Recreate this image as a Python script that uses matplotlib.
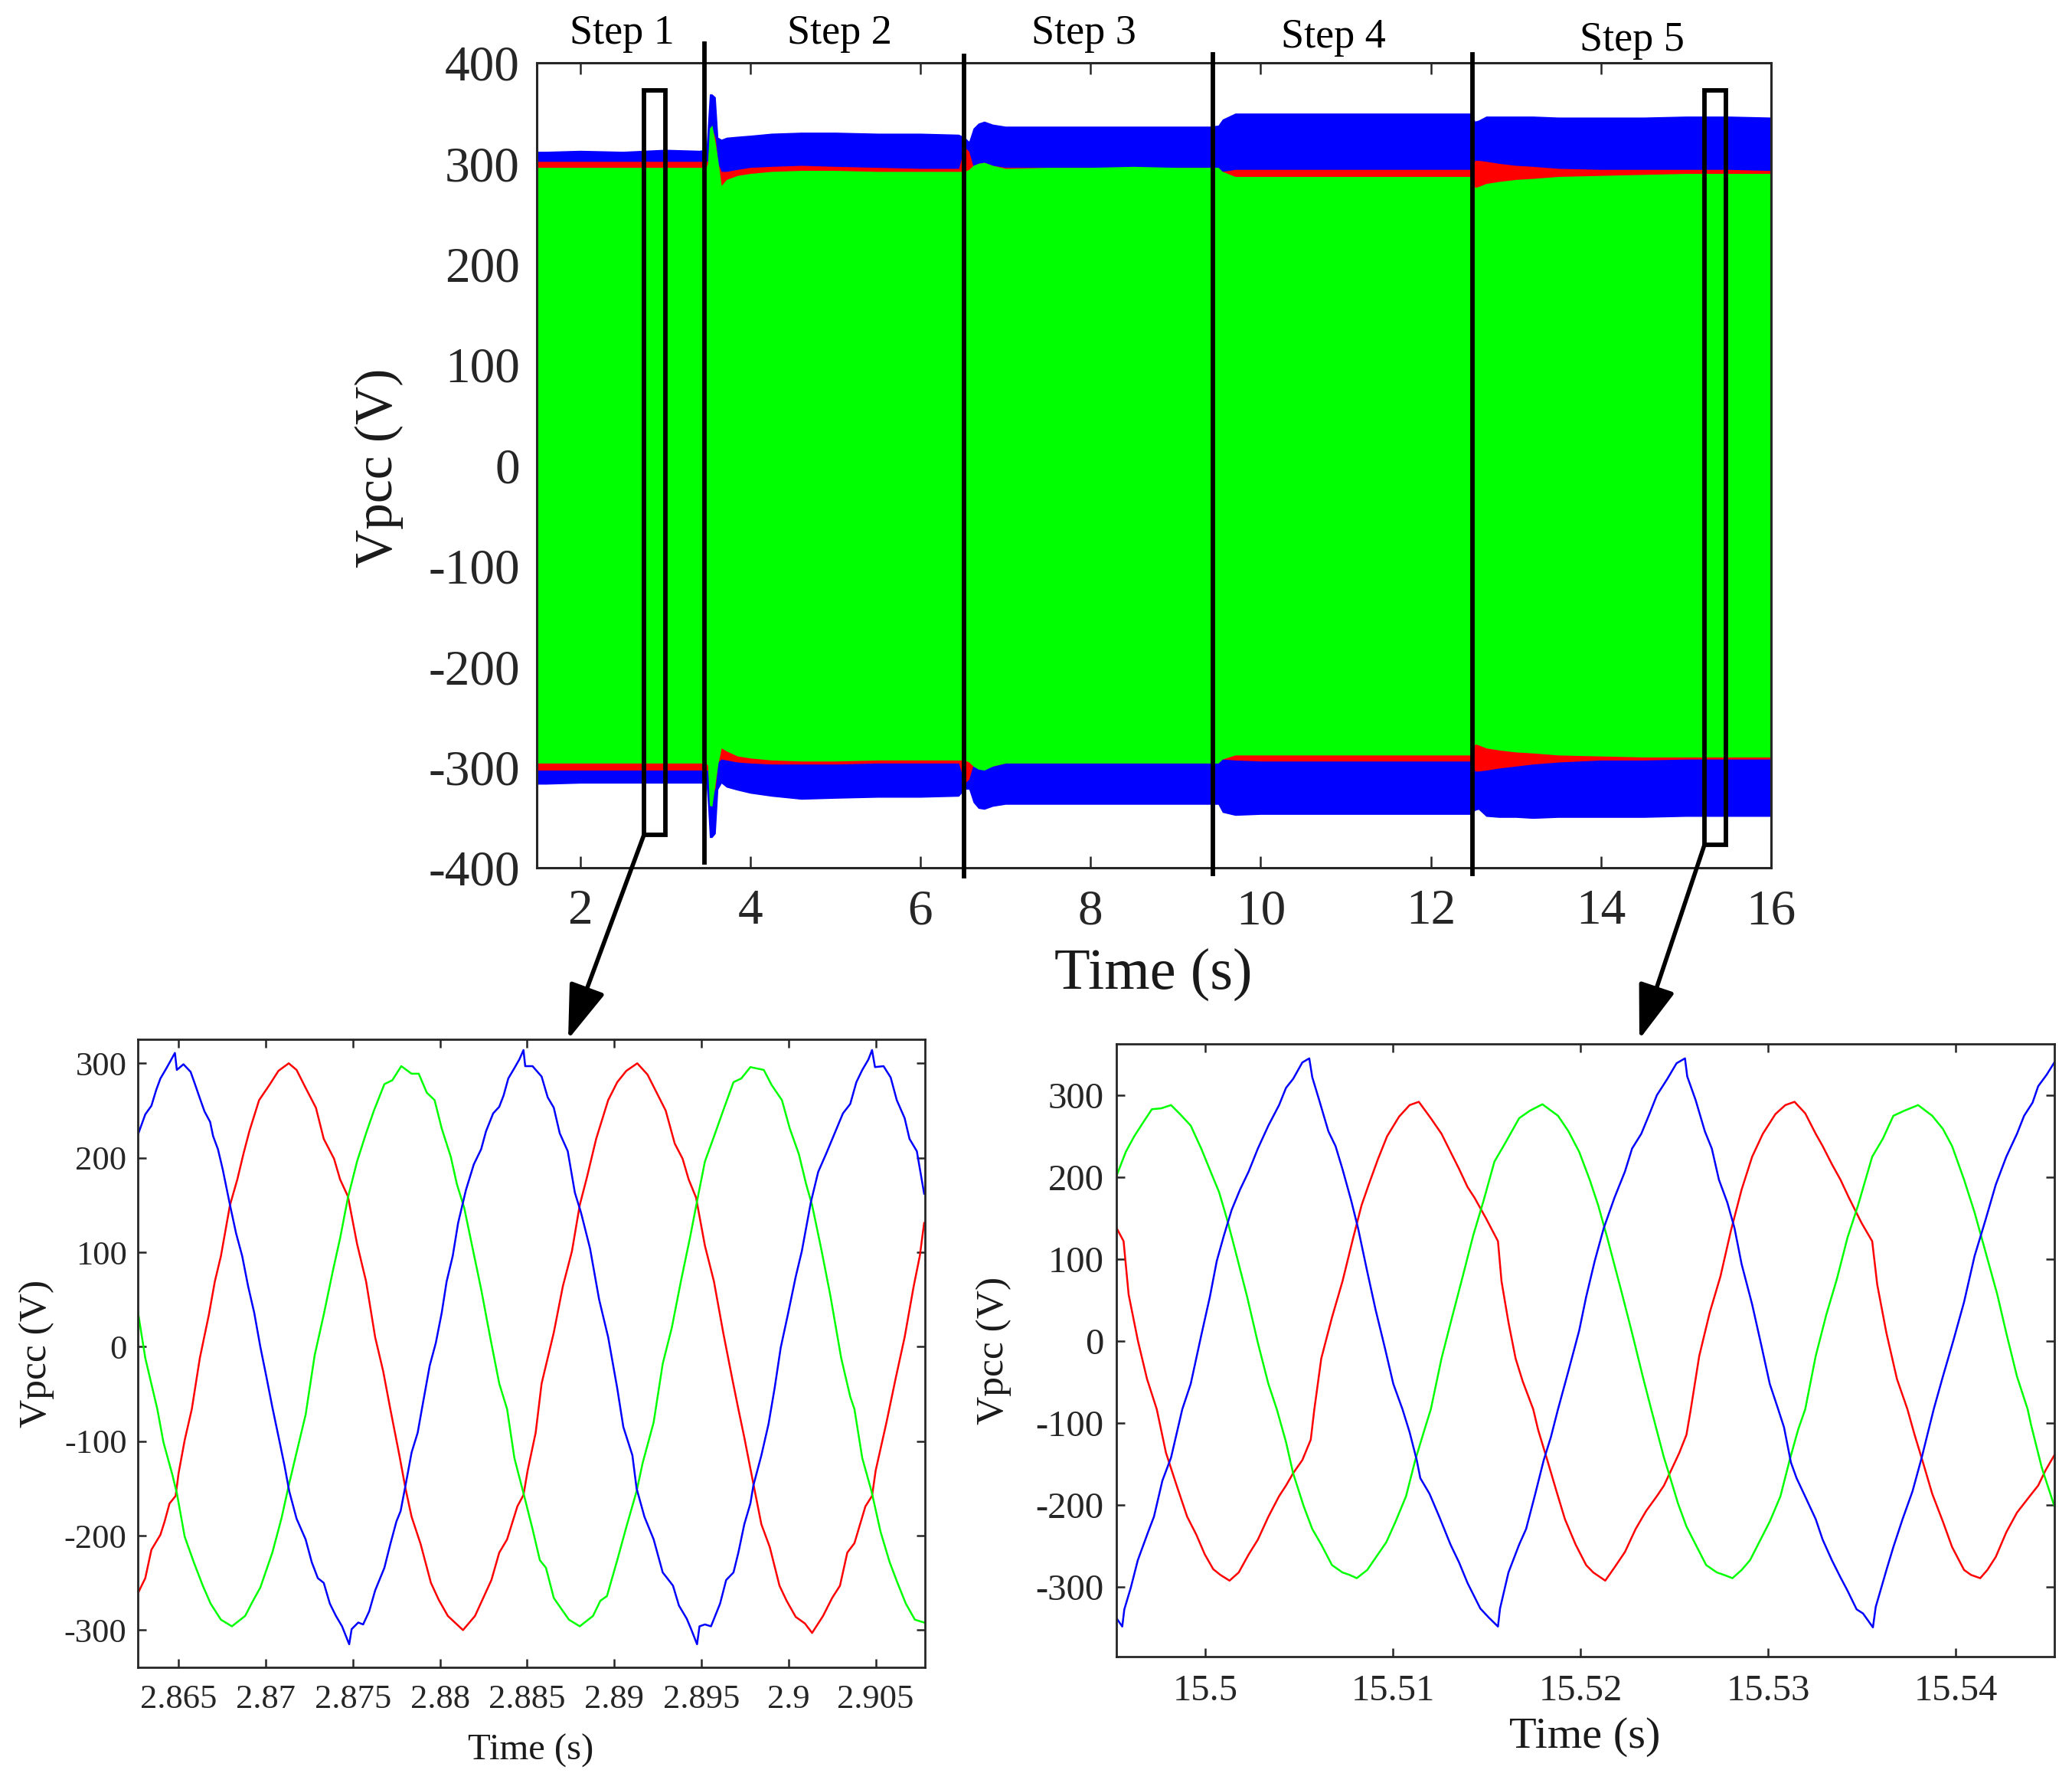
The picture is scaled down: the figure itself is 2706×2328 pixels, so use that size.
#!/usr/bin/env python3
import matplotlib
matplotlib.use("Agg")
from matplotlib import pyplot as plt
from matplotlib.patches import FancyArrowPatch, Rectangle

plt.rcParams["font.family"] = ["Liberation Serif", "DejaVu Serif"]
plt.rcParams["axes.unicode_minus"] = False

W, H = 2706, 2328
DARK = "#262626"
RED, GREEN, BLUE = "#ff0000", "#00ff00", "#0000ff"

# envelope of the three phases in the top plot
t_env = [1.49, 1.6, 2.0, 2.5, 3.0, 3.4, 3.48, 3.5, 3.52, 3.55, 3.59, 3.62, 3.66, 3.72, 3.85, 4.0, 4.25, 4.6, 5, 5.5,
         6, 6.45, 6.52, 6.57, 6.62, 6.68, 6.75, 6.85, 7.0, 7.5, 8, 8.5, 9, 9.4, 9.5, 9.55, 9.7, 10, 11, 12,
         12.47, 12.52, 12.56, 12.65, 12.8, 13, 13.2, 13.5, 14, 14.5, 15, 15.5, 16]
blue_top = [312, 312, 313, 312, 314, 313, 314, 342, 369, 369, 366, 326, 324, 326, 327, 328, 330, 331, 331, 330,
            330, 329, 326, 322, 335, 340, 342, 339, 337, 337, 337, 337, 337, 337, 338, 344, 350, 350, 350, 350,
            350, 342, 343, 347, 347, 347, 347, 346, 346, 346, 347, 347, 346]
blue_bot = [-317, -317, -316, -316, -316, -316, -316, -339, -370, -370, -366, -322, -316, -320, -323, -326, -329, -332, -331, -330,
            -330, -329, -322, -322, -335, -341, -342, -339, -337, -337, -337, -337, -337, -337, -337, -345, -348, -347, -347, -347,
            -347, -343, -342, -349, -350, -350, -351, -350, -350, -350, -349, -349, -349]
red_top = [302, 302, 302, 302, 302, 302, 302, 302, 325, 335, 325, 300, 292, 292, 294, 296, 297, 298, 297, 296,
           295, 295, 316, 312, 297, 300, 301, 298, 296, 296, 296, 296, 296, 296, 296, 292, 294, 294, 294, 294,
           294, 303, 303, 302, 300, 298, 297, 295, 294, 294, 294, 294, 293]
red_bot = [-303, -303, -303, -303, -303, -303, -303, -303, -320, -330, -320, -295, -292, -293, -295, -296, -297, -297, -297, -296,
           -296, -296, -316, -312, -298, -301, -302, -299, -296, -296, -296, -296, -296, -296, -296, -292, -293, -294, -294, -294,
           -294, -304, -304, -303, -301, -299, -297, -295, -293, -293, -292, -292, -292]
green_top = [296, 296, 296, 296, 296, 296, 296, 300, 335, 338, 320, 303, 278, 284, 288, 290, 292, 293, 293, 292,
             292, 292, 292, 294, 298, 300, 301, 298, 295, 296, 296, 297, 296, 296, 296, 292, 287, 287, 287, 287,
             287, 276, 277, 280, 282, 284, 285, 287, 288, 289, 290, 290, 290]
green_bot = [-296, -296, -296, -296, -296, -296, -296, -298, -338, -339, -315, -297, -281, -284, -289, -291, -293, -294, -294, -293,
             -293, -293, -293, -295, -299, -302, -303, -299, -296, -296, -296, -296, -296, -296, -296, -292, -288, -288, -288, -288,
             -288, -277, -278, -281, -283, -285, -286, -288, -289, -290, -290, -290, -290]

main_xticks = [2, 4, 6, 8, 10, 12, 14, 16]
main_yticks = [-400, -300, -200, -100, 0, 100, 200, 300, 400]
step_labels = ["Step 1", "Step 2", "Step 3", "Step 4", "Step 5"]

# zoom around 2.88 s
t1_blue = [2.86264, 2.86309, 2.86344, 2.86372, 2.86396, 2.86431, 2.86479, 2.8649, 2.86528, 2.86569, 2.86594, 2.86622, 2.86649, 2.86681, 2.86698, 2.86726, 2.86753, 2.86795, 2.8683, 2.86865,
           2.86899, 2.86934, 2.86969, 2.87003, 2.87038, 2.8708, 2.87108, 2.87135, 2.87177, 2.87229, 2.87264, 2.87299, 2.87333, 2.87368, 2.87403, 2.87438, 2.87479, 2.87493, 2.87531, 2.87559,
           2.87594, 2.87628, 2.87681, 2.87715, 2.8775, 2.87774, 2.87802, 2.87837, 2.87872, 2.87896, 2.87941, 2.87976, 2.8801, 2.88038, 2.88073, 2.88104, 2.88149, 2.88194, 2.88236, 2.88264,
           2.88305, 2.8834, 2.88365, 2.88392, 2.88427, 2.88455, 2.88479, 2.88489, 2.88531, 2.88583, 2.88618, 2.88653, 2.88687, 2.88733, 2.88774, 2.88809, 2.88861, 2.88913, 2.88965, 2.89017,
           2.89052, 2.89104, 2.89128, 2.89173, 2.89226, 2.89278, 2.89312, 2.89337, 2.89371, 2.89416, 2.89441, 2.89475, 2.89489, 2.8952, 2.89555, 2.89607, 2.89642, 2.89684, 2.89712, 2.89746,
           2.89781, 2.89798, 2.89844, 2.89885, 2.8992, 2.89955, 2.89996, 2.90041, 2.90076, 2.90128, 2.9017, 2.90215, 2.90267, 2.90312, 2.90354, 2.90389, 2.90423, 2.90458, 2.90479, 2.90496,
           2.90545, 2.90586, 2.90621, 2.90666, 2.90694, 2.90736, 2.90778]
v1_blue = [223, 246, 255, 272, 284, 295, 311, 293, 299, 291, 278, 263, 249, 238, 223, 209, 188, 150, 120, 96,
           64, 36, 0, -31, -64, -101, -126, -153, -182, -204, -228, -245, -250, -272, -285, -296, -315, -299, -292, -294,
           -280, -258, -234, -209, -185, -174, -147, -112, -91, -66, -20, 4, 36, 69, 96, 131, 166, 193, 209, 228,
           247, 254, 266, 284, 295, 304, 314, 297, 297, 286, 264, 253, 226, 207, 163, 142, 104, 50, 10, -44,
           -85, -115, -150, -180, -204, -239, -247, -253, -274, -288, -299, -315, -296, -294, -296, -272, -247, -239, -218, -188,
           -166, -147, -115, -82, -44, -1, 34, 74, 101, 153, 185, 204, 227, 247, 257, 280, 293, 304, 314, 296,
           297, 285, 261, 242, 220, 207, 162]
t1_red = [2.86264, 2.86309, 2.86344, 2.86396, 2.8642, 2.86448, 2.86483, 2.865, 2.86535, 2.86576, 2.86622, 2.86674, 2.86708, 2.86743, 2.86795, 2.86837, 2.86872, 2.86906, 2.86962, 2.87021,
          2.87073, 2.87132, 2.87177, 2.87229, 2.87288, 2.87333, 2.87392, 2.87427, 2.87472, 2.87524, 2.87576, 2.87628, 2.87674, 2.87715, 2.87767, 2.87802, 2.87837, 2.87889, 2.87948, 2.87993,
          2.88045, 2.88132, 2.88201, 2.88253, 2.88295, 2.8834, 2.88385, 2.88444, 2.88479, 2.88503, 2.88549, 2.88583, 2.88653, 2.88705, 2.88757, 2.88802, 2.88844, 2.88896, 2.88965, 2.89017,
          2.89069, 2.89132, 2.89191, 2.89243, 2.89295, 2.89347, 2.89392, 2.89427, 2.89469, 2.8952, 2.89572, 2.89625, 2.89677, 2.89712, 2.89746, 2.89798, 2.89844, 2.89892, 2.89948, 2.89989,
          2.90041, 2.90094, 2.90135, 2.90198, 2.9025, 2.90295, 2.90337, 2.90378, 2.90441, 2.90479, 2.905, 2.90562, 2.90614, 2.90666, 2.90718, 2.90753, 2.90778]
v1_red = [-262, -245, -215, -199, -185, -166, -158, -134, -99, -66, -12, 34, 69, 96, 150, 177, 204, 228, 261, 277,
          292, 300, 293, 274, 253, 220, 199, 177, 159, 109, 69, 10, -26, -66, -115, -150, -180, -209, -250, -268,
          -285, -300, -285, -264, -247, -218, -204, -169, -157, -131, -91, -39, 15, 64, 101, 150, 180, 220, 261, 280,
          292, 300, 288, 269, 250, 215, 199, 177, 158, 107, 69, 15, -34, -66, -96, -145, -188, -212, -253, -269,
          -286, -293, -303, -285, -266, -253, -218, -208, -169, -158, -131, -80, -34, 10, 64, 96, 131]
t1_green = [2.86264, 2.86309, 2.86378, 2.86413, 2.86465, 2.8649, 2.86535, 2.86587, 2.86639, 2.86684, 2.86743, 2.86806, 2.86882, 2.86924, 2.86969, 2.87038, 2.8709, 2.87132, 2.87177, 2.87229,
            2.87281, 2.87333, 2.87385, 2.87427, 2.87472, 2.87524, 2.87576, 2.87621, 2.87681, 2.87726, 2.87778, 2.87837, 2.87878, 2.87924, 2.87969, 2.8801, 2.88062, 2.88097, 2.88139, 2.88184,
            2.88236, 2.88288, 2.8834, 2.88385, 2.88427, 2.88479, 2.88531, 2.88573, 2.88608, 2.88653, 2.88698, 2.8874, 2.88802, 2.88878, 2.8892, 2.88958, 2.89017, 2.89069, 2.89128, 2.89163,
            2.89226, 2.89278, 2.8933, 2.89382, 2.89434, 2.89476, 2.8952, 2.89573, 2.89625, 2.89684, 2.89729, 2.89781, 2.89858, 2.89903, 2.89962, 2.90007, 2.90059, 2.90101, 2.90135, 2.90187,
            2.90239, 2.90302, 2.90354, 2.90378, 2.90423, 2.90476, 2.90528, 2.9058, 2.90625, 2.90673, 2.90725, 2.90778]
v1_green = [40, -12, -66, -101, -136, -155, -201, -228, -253, -272, -289, -296, -285, -270, -255, -218, -182, -147, -112, -72,
            -9, 34, 80, 115, 158, 196, 226, 250, 278, 282, 297, 289, 289, 269, 261, 231, 201, 172, 147, 107,
            61, 10, -39, -66, -118, -155, -193, -226, -234, -266, -278, -289, -296, -285, -269, -264, -226, -191, -153, -123,
            -80, -18, 20, 69, 115, 155, 196, 223, 250, 280, 284, 296, 293, 277, 261, 231, 204, 172, 150, 104,
            55, -12, -53, -66, -118, -153, -196, -228, -250, -272, -289, -292]
zoom1_xticks = [2.865, 2.87, 2.875, 2.88, 2.885, 2.89, 2.895, 2.9, 2.905]
zoom1_xlabels = ["2.865", "2.87", "2.875", "2.88", "2.885", "2.89", "2.895", "2.9", "2.905"]
zoom1_yticks = [-300, -200, -100, 0, 100, 200, 300]

# zoom around 15.52 s
t2_blue = [15.49526, 15.49556, 15.49567, 15.49601, 15.49639, 15.49695, 15.49725, 15.4977, 15.49816, 15.49876, 15.49921, 15.49977, 15.50023, 15.5006, 15.50098, 15.50139, 15.50184, 15.5023, 15.50279, 15.50335,
           15.50392, 15.50429, 15.50467, 15.50516, 15.50553, 15.50569, 15.50606, 15.50655, 15.50693, 15.5073, 15.50776, 15.50813, 15.50862, 15.50907, 15.50956, 15.51001, 15.5105, 15.51088, 15.51126, 15.51145,
           15.51194, 15.51246, 15.51306, 15.51352, 15.51397, 15.51465, 15.5151, 15.51559, 15.5157, 15.51615, 15.51672, 15.51709, 15.51758, 15.51803, 15.51841, 15.51879, 15.51935, 15.51992, 15.52029, 15.52075,
           15.52123, 15.5218, 15.52236, 15.52274, 15.52323, 15.52368, 15.52406, 15.52462, 15.52511, 15.52556, 15.52568, 15.52613, 15.52662, 15.52699, 15.52737, 15.52782, 15.5282, 15.52858, 15.52914, 15.52963,
           15.53008, 15.53053, 15.53084, 15.53121, 15.53151, 15.53196, 15.53253, 15.5329, 15.53339, 15.53385, 15.53422, 15.53471, 15.53505, 15.53558, 15.53573, 15.5363, 15.53667, 15.53716, 15.53769, 15.53818,
           15.53882, 15.53931, 15.53987, 15.54044, 15.541, 15.54157, 15.54213, 15.54269, 15.54326, 15.54364, 15.54409, 15.54439, 15.54484, 15.54525]
v2_blue = [-338, -348, -327, -301, -267, -232, -214, -170, -142, -83, -52, 7, 54, 98, 129, 160, 185, 207, 235, 263,
           288, 309, 320, 340, 345, 322, 294, 256, 238, 210, 172, 138, 85, 38, -8, -52, -83, -111, -145, -167,
           -186, -214, -248, -270, -295, -326, -337, -348, -326, -282, -248, -229, -186, -145, -117, -83, -36, 13, 54, 98,
           138, 175, 207, 235, 253, 278, 300, 320, 339, 345, 323, 294, 256, 235, 197, 169, 138, 94, 45, -5,
           -52, -83, -105, -148, -167, -189, -217, -242, -267, -288, -304, -327, -332, -349, -324, -279, -251, -217, -183, -142,
           -83, -43, 1, 48, 104, 147, 191, 225, 253, 275, 291, 311, 325, 340]
t2_red = [15.49526, 15.49563, 15.4959, 15.49639, 15.49688, 15.4974, 15.49789, 15.49846, 15.49902, 15.49951, 15.49996, 15.50041, 15.50079, 15.50128, 15.50177, 15.5023, 15.50279, 15.50335, 15.50392, 15.50429,
          15.50467, 15.50516, 15.50561, 15.5058, 15.50617, 15.50674, 15.5073, 15.50787, 15.50832, 15.5087, 15.50919, 15.50968, 15.51032, 15.51088, 15.51137, 15.51201, 15.51258, 15.51306, 15.51352, 15.51397,
          15.51434, 15.51495, 15.51559, 15.51578, 15.51615, 15.51653, 15.51691, 15.51747, 15.51773, 15.51822, 15.51871, 15.51916, 15.51973, 15.52029, 15.52067, 15.52131, 15.5218, 15.52236, 15.52293, 15.52349,
          15.52406, 15.52444, 15.52481, 15.52526, 15.52564, 15.52587, 15.52632, 15.52688, 15.52745, 15.52801, 15.52858, 15.52914, 15.52971, 15.53038, 15.53091, 15.5314, 15.53197, 15.53253, 15.5329, 15.53339,
          15.53385, 15.5343, 15.53498, 15.53554, 15.53581, 15.5363, 15.53686, 15.53742, 15.5378, 15.53829, 15.53874, 15.53931, 15.5398, 15.54044, 15.54081, 15.5413, 15.54168, 15.54213, 15.54269, 15.54326,
          15.54394, 15.54439, 15.54477, 15.54525]
v2_red = [138, 122, 57, 1, -46, -83, -136, -176, -214, -236, -260, -278, -285, -292, -282, -260, -242, -214, -189, -176,
          -161, -145, -120, -83, -21, 29, 73, 126, 166, 191, 222, 250, 274, 288, 292, 272, 253, 231, 210, 188,
          175, 150, 122, 73, 23, -21, -49, -83, -108, -145, -183, -217, -248, -273, -282, -292, -276, -257, -229, -207,
          -189, -176, -158, -136, -114, -83, -18, 35, 79, 135, 185, 225, 253, 277, 288, 292, 278, 253, 238, 216,
          197, 175, 144, 122, 69, 10, -46, -83, -114, -151, -186, -220, -251, -279, -285, -289, -279, -263, -233, -209,
          -189, -176, -158, -139]
t2_green = [15.49526, 15.49575, 15.4962, 15.49665, 15.49714, 15.49763, 15.49816, 15.49864, 15.49921, 15.49977, 15.50034, 15.50072, 15.50117, 15.50166, 15.50222, 15.50279, 15.50335, 15.5038, 15.50429, 15.50467,
            15.50523, 15.50569, 15.50617, 15.50674, 15.5073, 15.50768, 15.50806, 15.50862, 15.50919, 15.50964, 15.51013, 15.51069, 15.51118, 15.51163, 15.51201, 15.51258, 15.51314, 15.51371, 15.51427, 15.51483,
            15.5154, 15.51596, 15.51672, 15.51728, 15.51796, 15.51879, 15.51935, 15.51992, 15.52048, 15.52093, 15.52142, 15.52218, 15.52274, 15.52331, 15.52376, 15.52398, 15.52444, 15.5247, 15.52519, 15.52564,
            15.52613, 15.52669, 15.52726, 15.52764, 15.52809, 15.52858, 15.52903, 15.52952, 15.53008, 15.53065, 15.53114, 15.53159, 15.53197, 15.53253, 15.53309, 15.53366, 15.53422, 15.53479, 15.53554, 15.53611,
            15.53667, 15.53724, 15.53799, 15.53874, 15.53931, 15.5398, 15.54044, 15.541, 15.54157, 15.54221, 15.54269, 15.54326, 15.54383, 15.54401, 15.54458, 15.54525]
v2_green = [202, 231, 250, 266, 283, 284, 288, 277, 263, 235, 203, 182, 147, 104, 54, -2, -52, -83, -123, -161,
            -201, -229, -248, -273, -282, -285, -289, -279, -260, -245, -220, -189, -145, -111, -83, -21, 29, 79, 129, 172,
            219, 241, 272, 281, 289, 275, 256, 231, 197, 166, 126, 60, 10, -43, -83, -102, -142, -161, -198, -226,
            -248, -273, -282, -285, -289, -279, -267, -245, -220, -189, -145, -108, -83, -18, 32, 76, 126, 166, 225, 247,
            275, 281, 288, 275, 259, 238, 197, 157, 110, 57, 10, -43, -83, -102, -154, -201]
zoom2_xticks = [15.5, 15.51, 15.52, 15.53, 15.54]
zoom2_xlabels = ["15.5", "15.51", "15.52", "15.53", "15.54"]
zoom2_yticks = [-300, -200, -100, 0, 100, 200, 300]


def px_axes(fig, left, top, right, bottom):
    return fig.add_axes([left / W, 1 - bottom / H, (right - left) / W, (bottom - top) / H])


def fig_text(fig, x, y, s, **kw):
    # x, y are picture pixels, y measured from the top
    fig.text(x / W, 1 - y / H, s, color=kw.pop("color", "#1a1a1a"), **kw)


def style_axes(ax, tick_len, tick_w, spine_w, size, xpad, ypad):
    for sp in ax.spines.values():
        sp.set_linewidth(spine_w)
        sp.set_color(DARK)
    ax.set_axisbelow(True)
    ax.tick_params(axis="both", direction="in", top=True, right=True, length=tick_len, width=tick_w,
                   color=DARK, labelcolor=DARK, labelsize=size)
    ax.tick_params(axis="x", pad=xpad)
    ax.tick_params(axis="y", pad=ypad)


fig = plt.figure(figsize=(W / 100, H / 100), dpi=100)

# top plot
ax = px_axes(fig, 701, 82, 2313, 1133)
ax.fill_between(t_env, blue_bot, blue_top, color=BLUE, lw=0)
ax.fill_between(t_env, red_bot, red_top, color=RED, lw=0)
ax.fill_between(t_env, green_bot, green_top, color=GREEN, lw=0)
ax.set_xlim(1.49, 16)
ax.set_ylim(-400, 400)
ax.set_xticks(main_xticks)
ax.set_yticks(main_yticks)
style_axes(ax, 11, 1.8, 2.2, 47, 20, 16)

# step separators and the two marked windows
step_lines = [(3.46, -395, 419), (6.51, -408, 407), (9.44, -406, 408), (12.49, -406, 408)]
for x0, y0, y1 in step_lines:
    ax.plot([x0, x0], [y0, y1], color="black", lw=4.2, clip_on=False, zorder=6)
for x0, x1, y0, y1 in [(2.75, 3.006, -367, 372.5), (15.22, 15.47, -377, 372.5)]:
    ax.add_patch(Rectangle((x0, y0), x1 - x0, y1 - y0, fill=False, ec="black", lw=4.2, zorder=6))

step_pos = [(812, 57), (1096, 57), (1415, 57), (1741, 62), (2131, 66)]
for lab, (x0, y0) in zip(step_labels, step_pos):
    fig_text(fig, x0, y0, lab, fontsize=39, ha="center", va="baseline", color="black")
fig_text(fig, 1506, 1291, "Time (s)", fontsize=55, ha="center", va="baseline")
fig_text(fig, 495, 611, "Vpcc (V)", fontsize=50, rotation=90, ha="center", va="center")

# left zoom
ax1 = px_axes(fig, 179.5, 1357, 1207.6, 2176.7)
ax1.plot(t1_red, v1_red, color=RED, lw=1.8)
ax1.plot(t1_green, v1_green, color=GREEN, lw=1.8)
ax1.plot(t1_blue, v1_blue, color=BLUE, lw=1.8)
ax1.set_xlim(2.86264, 2.90781)
ax1.set_ylim(-339.2, 325.4)
ax1.set_xticks(zoom1_xticks)
ax1.set_xticklabels(zoom1_xlabels)
ax1.set_yticks(zoom1_yticks)
style_axes(ax1, 8, 1.8, 2.0, 32, 16, 10)
fig_text(fig, 693, 2298, "Time (s)", fontsize=35, ha="center", va="baseline")
fig_text(fig, 48, 1767, "Vpcc (V)", fontsize=37, rotation=90, ha="center", va="center")

# right zoom
ax2 = px_axes(fig, 1458.3, 1362.7, 2682.9, 2162.7)
ax2.plot(t2_red, v2_red, color=RED, lw=1.8)
ax2.plot(t2_green, v2_green, color=GREEN, lw=1.8)
ax2.plot(t2_blue, v2_blue, color=BLUE, lw=1.8)
ax2.set_xlim(15.49526, 15.54525)
ax2.set_ylim(-384.4, 362.9)
ax2.set_xticks(zoom2_xticks)
ax2.set_xticklabels(zoom2_xlabels)
ax2.set_yticks(zoom2_yticks)
style_axes(ax2, 8, 1.8, 2.0, 35, 17, 12)
fig_text(fig, 2070, 2282, "Time (s)", fontsize=42, ha="center", va="baseline")
fig_text(fig, 1298, 1763, "Vpcc (V)", fontsize=37, rotation=90, ha="center", va="center")

# arrows from the windows down to the zooms
for (x0, y0), (x1, y1) in [((841, 1090), (742, 1357)), ((2226, 1103), (2141, 1357))]:
    arrow = FancyArrowPatch((x0 / W, 1 - y0 / H), (x1 / W, 1 - y1 / H), transform=fig.transFigure,
                            arrowstyle="-|>,head_length=4.4,head_width=1.5", mutation_scale=10,
                            color="black", lw=4.0, shrinkA=0, shrinkB=0, zorder=10)
    fig.add_artist(arrow)

fig.savefig("out.png", dpi=100)
